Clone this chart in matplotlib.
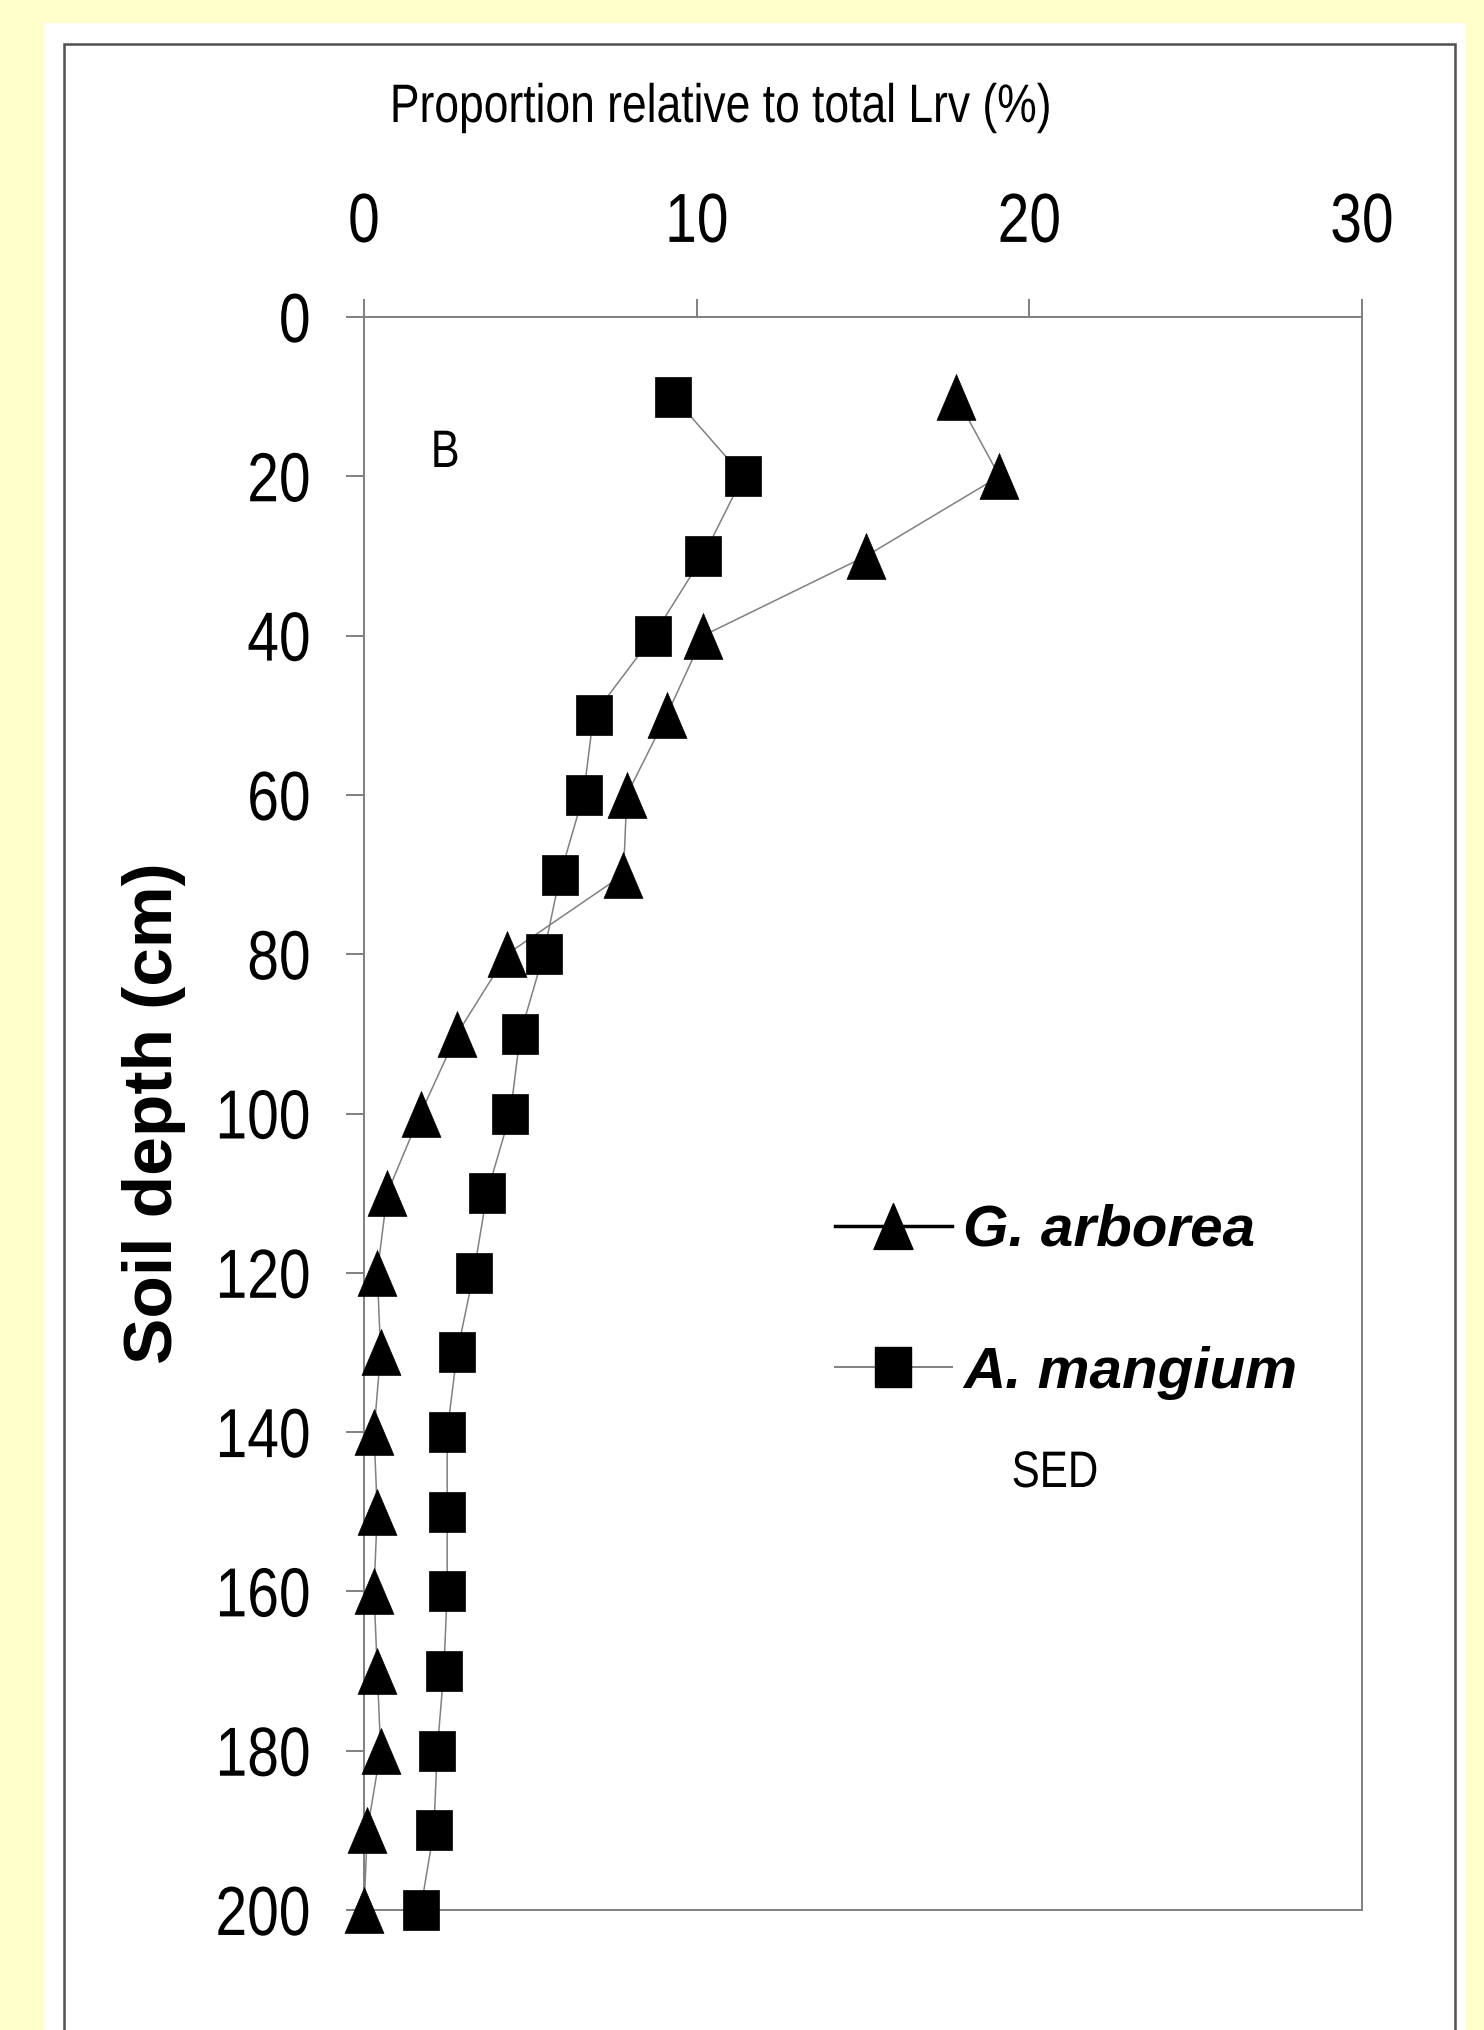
import matplotlib
matplotlib.use("Agg")
import matplotlib.pyplot as plt
from matplotlib import font_manager
from matplotlib.lines import Line2D
from matplotlib.patches import Rectangle
from matplotlib.patheffects import AbstractPathEffect
from matplotlib.transforms import Affine2D

# ---------------- data ----------------
depth = [10, 20, 30, 40, 50, 60, 70, 80, 90, 100,
         110, 120, 130, 140, 150, 160, 170, 180, 190, 200]
g_arborea = [17.8, 19.1, 15.1, 10.2, 9.1, 7.9, 7.8, 4.3, 2.8, 1.7,
             0.7, 0.4, 0.5, 0.3, 0.4, 0.3, 0.4, 0.5, 0.1, 0.0]
a_mangium = [9.3, 11.4, 10.2, 8.7, 6.9, 6.6, 5.9, 5.4, 4.7, 4.4,
             3.7, 3.3, 2.8, 2.5, 2.5, 2.5, 2.4, 2.2, 2.1, 1.7]
series_names = ["G. arborea", "A. mangium"]
x_ticks = [0, 10, 20, 30]
y_ticks = [0, 20, 40, 60, 80, 100, 120, 140, 160, 180, 200]

SANS = "Liberation Sans"


class Condense(AbstractPathEffect):
    """Draw text horizontally condensed (narrow face look), keeping alignment."""

    def __init__(self, sx=0.82, anchor="center"):
        super().__init__()
        self.sx = sx
        self.anchor = anchor

    def draw_path(self, renderer, gc, tpath, affine, rgbFace=None):
        ext = tpath.get_extents()
        if self.anchor == "center":
            x0 = (ext.x0 + ext.x1) / 2
        elif self.anchor == "right":
            x0 = ext.x1
        else:
            x0 = ext.x0
        a = Affine2D().translate(-x0, 0).scale(self.sx, 1).translate(x0, 0) + affine
        renderer.draw_path(gc, tpath, a, rgbFace)


W, H = 1484, 2030
fig = plt.figure(figsize=(W / 100, H / 100), dpi=100)
fig.patch.set_facecolor("#FFFFCC")

# white panel and dark frame (behind the axes)
fig.patches.append(Rectangle((45 / W, -0.01), (1466 - 45) / W, 1.01 - 23 / H,
                             transform=fig.transFigure, facecolor="white",
                             edgecolor="none", zorder=-3))
fig.patches.append(Rectangle((64 / W, -0.05), (1455 - 64) / W, 1.05 - 44 / H,
                             transform=fig.transFigure, fill=False,
                             edgecolor="#505050", lw=1.8, zorder=-2))

ax = fig.add_axes([364 / W, 1 - 1910 / H, 998 / W, (1910 - 317) / H])
ax.set_facecolor("white")

tri = [(0, 1), (-0.85, -1), (0.85, -1), (0, 1)]
sq = [(-0.88, -1), (0.88, -1), (0.88, 1), (-0.88, 1), (-0.88, -1)]

line_col = "#808080"
ax.plot(g_arborea, depth, color=line_col, lw=1.1, marker=tri, ms=33,
        mfc="black", mec="black", mew=0.5, clip_on=False, zorder=3)
ax.plot(a_mangium, depth, color=line_col, lw=1.1, marker=sq, ms=29.5,
        mfc="black", mec="black", mew=0.5, clip_on=False, zorder=3)

ax.set_xlim(0, 30)
ax.set_ylim(200, 0)
ax.xaxis.tick_top()
ax.xaxis.set_label_position("top")
ax.set_xticks(x_ticks)
ax.set_yticks(y_ticks)

spine_col = "#808080"
for s in ax.spines.values():
    s.set_color(spine_col)
    s.set_linewidth(1.4)

ax.tick_params(axis="x", top=True, bottom=False, direction="out", length=13,
               width=1.4, color=spine_col, pad=31, labelsize=50)
ax.tick_params(axis="y", left=True, right=False, direction="out", length=13,
               width=1.4, color=spine_col, pad=25, labelsize=50)
for lbl in ax.get_xticklabels():
    lbl.set_fontfamily(SANS)
    lbl.set_path_effects([Condense(0.82, "center")])
for lbl in ax.get_yticklabels():
    lbl.set_fontfamily(SANS)
    lbl.set_path_effects([Condense(0.82, "right")])

ax.set_xlabel("Proportion relative to total Lrv (%)", fontsize=39, family=SANS)
ax.xaxis.set_label_coords((720 - 364) / 998, (1910 - 122) / 1593)
ax.xaxis.label.set_va("baseline")
ax.xaxis.label.set_path_effects([Condense(0.82, "center")])

ax.set_ylabel("Soil depth (cm)", fontsize=50, fontweight="bold", family=SANS)
ax.yaxis.set_label_coords((172 - 364) / 998, 0.5)
ax.yaxis.label.set_va("baseline")

# panel letter and note
ax.text((430 - 364) / 998, (1910 - 467) / 1593, "B", transform=ax.transAxes,
        fontsize=38, family=SANS, ha="left", va="baseline",
        path_effects=[Condense(0.82, "left")])
ax.text((1055 - 364) / 998, (1910 - 1487) / 1593, "SED", transform=ax.transAxes,
        fontsize=37, family=SANS, ha="center", va="baseline",
        path_effects=[Condense(0.82, "center")])

# legend
handles = [
    Line2D([], [], color="black", lw=2.5, marker=tri, ms=33, mfc="black", mec="black"),
    Line2D([], [], color=line_col, lw=1.4, marker=sq, ms=29.5, mfc="black", mec="black"),
]
leg = ax.legend(handles, series_names, loc="upper left",
                bbox_to_anchor=((835 - 364) / 998, 1 - (1204 - 317) / 1593),
                frameon=False, borderpad=0, borderaxespad=0, handlelength=2.0,
                handletextpad=0.2, labelspacing=1.5,
                prop={"family": SANS, "weight": "bold", "style": "italic", "size": 42})

fig.savefig("out.png", dpi=100, facecolor=fig.get_facecolor())
